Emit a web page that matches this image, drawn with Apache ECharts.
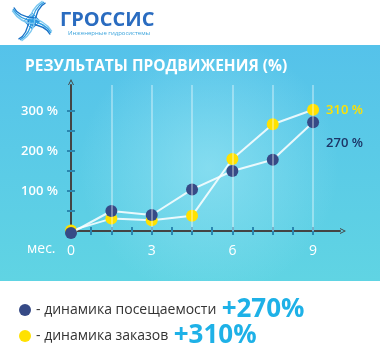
<!DOCTYPE html>
<html><head><meta charset="utf-8">
<script src="https://cdn.jsdelivr.net/npm/echarts@6/dist/echarts.min.js"></script>
<style>html,body{margin:0;padding:0;background:#fff}#c{width:380px;height:360px}</style>
</head><body><div id="c"></div>
<script>
// ---- data ----
var months = [0, 1.5, 3, 4.5, 6, 7.5, 9];
var visits = [-5, 50, 40, 104, 150, 178, 272];
var orders = [1, 31, 27, 38, 180, 267, 303];
var visitsName = '- динамика посещаемости';
var ordersName = '- динамика заказов';
var visitsTotal = '+270%';
var ordersTotal = '+310%';
var visitsEndLabel = '270 %';
var ordersEndLabel = '310 %';
var xTickValues = [0, 0.75, 1.5, 2.25, 3, 3.75, 4.5, 5.25, 6, 6.75, 7.5, 8.25, 9];
var xLabelValues = [0, 3, 6, 9];
var yTickValues = [50, 100, 150, 200, 250, 300];
var yLabelValues = [100, 200, 300];
var gridMonths = [1.5, 3, 4.5, 6, 7.5, 9];
var title = 'РЕЗУЛЬТАТЫ ПРОДВИЖЕНИЯ (%)';
var xUnit = 'мес.';

var FONT = '"Open Sans", sans-serif';
var chart = echarts.init(document.getElementById('c'));
var ARROW = 'path://M0,10 L5,0 L10,10 L8.4,10 L5,3.2 L1.6,10 Z';

function pairs(ys) { return months.map(function (m, i) { return [m, ys[i]]; }); }
function withEndLabel(ys, text, color, offset) {
  var d = pairs(ys);
  var last = d.length - 1;
  d[last] = { value: d[last], label: { show: true, position: 'right', distance: 7, offset: offset,
    formatter: text, color: color, fontFamily: FONT, fontSize: 13, fontWeight: 600 } };
  return d;
}

// logo
var logo = [];
var cx = 32, cy = 21;
function rot(p, k) {
  var x = p[0], y = p[1];
  for (var i = 0; i < k; i++) { var t = x; x = -y; y = t; }
  return [cx + x, cy + y];
}
var armColors = ['#7cc8f0', '#2f9fe3', '#1a72c6'];
for (var k = 0; k < 4; k++) {
  for (var s = -1; s <= 1; s++) {
    var p0 = [s * 3, 2], p1 = [s * 3 + 1, -8], p2 = [5 + s * 2, -15], p3 = [12 + s * 1.5, -19 + s * 0.8];
    var a = rot(p0, k), b = rot(p1, k), c = rot(p2, k), d = rot(p3, k);
    logo.push({ type: 'bezierCurve', shape: { x1: a[0], y1: a[1], cpx1: b[0], cpy1: b[1], cpx2: c[0], cpy2: c[1], x2: d[0], y2: d[1] },
      style: { stroke: armColors[s + 1], lineWidth: 1.4, fill: null }, z: 10 });
  }
}
var sq = [];
sq.push({ type: 'rect', shape: { x: -6, y: -6, width: 12, height: 12 }, style: { fill: '#2b8fdc' } });
for (var g = -4; g <= 4; g += 2.7) {
  sq.push({ type: 'line', shape: { x1: g, y1: -6, x2: g, y2: 6 }, style: { stroke: '#fff', lineWidth: 0.9 } });
  sq.push({ type: 'line', shape: { x1: -6, y1: g, x2: 6, y2: g }, style: { stroke: '#fff', lineWidth: 0.9 } });
}
logo.push({ type: 'group', x: cx, y: cy, rotation: Math.PI / 4, children: sq, z: 11 });

var tickStyle = { color: '#2a87b0', width: 2 };

var option = {
  animation: false,
  graphic: [
    { type: 'rect', shape: { x: 0, y: 45, width: 380, height: 236 }, z: -100,
      style: { fill: new echarts.graphic.LinearGradient(0, 0, 0, 1, [
        { offset: 0, color: '#55c2ea' }, { offset: 1, color: '#60d4e3' }]) } },
    { type: 'rect', shape: { x: 0, y: 45, width: 380, height: 236 }, z: -99,
      style: { fill: new echarts.graphic.RadialGradient(0.55, 0.52, 0.55, [
        { offset: 0, color: 'rgba(160,232,246,0.6)' }, { offset: 1, color: 'rgba(160,232,246,0)' }]) } },
    { type: 'text', left: 25, top: 59, z: 5,
      style: { text: title, fill: '#fff', font: 'bold 15.5px ' + FONT } },
    { type: 'text', left: 27, top: 242, z: 5,
      style: { text: xUnit, fill: '#fff', font: '14px ' + FONT } },
    { type: 'text', left: 60, top: 10, z: 5,
      style: { text: 'ГРОССИС', fill: '#2a6cc0', font: 'bold 20px ' + FONT } },
    { type: 'text', left: 68, top: 30, z: 5,
      style: { text: 'Инженерные гидросистемы', fill: '#3aa3dc', font: '6px ' + FONT } }
  ].concat(logo),
  legend: {
    left: 14, top: 292, orient: 'vertical', itemGap: 0, icon: 'circle', itemWidth: 12, itemHeight: 12,
    data: [visitsName, ordersName],
    formatter: function (n) {
      return '{a|' + n + '} {b|' + (n === visitsName ? visitsTotal : ordersTotal) + '}';
    },
    textStyle: { rich: {
      a: { color: '#333', fontSize: 14, fontFamily: FONT, lineHeight: 28 },
      b: { color: '#1eb1e7', fontSize: 26, fontWeight: 'bold', fontFamily: FONT, lineHeight: 28, padding: [0, 0, 0, 2] }
    } }
  },
  grid: { left: 71, right: 40, top: 85, bottom: 129, containLabel: false },
  xAxis: [
    { type: 'value', min: 0, max: 10,
      axisLine: { show: true, lineStyle: { color: '#444', width: 2 }, symbol: ['none', ARROW], symbolSize: [9, 6], symbolOffset: [0, 3] },
      axisTick: { show: true, length: 4, customValues: xTickValues, lineStyle: tickStyle },
      axisLabel: { customValues: xLabelValues, color: '#fff', fontSize: 14, fontFamily: FONT, margin: 13 },
      splitLine: { show: false } },
    { type: 'value', min: 0, max: 10, position: 'bottom',
      axisLine: { show: false },
      axisTick: { show: true, inside: true, length: 4, customValues: xTickValues, lineStyle: tickStyle },
      axisLabel: { show: false }, splitLine: { show: false } }
  ],
  yAxis: [
    { type: 'value', min: 0, max: 365,
      axisLine: { show: true, lineStyle: { color: '#444', width: 2 }, symbol: ['none', ARROW], symbolSize: [9, 6], symbolOffset: [0, 3] },
      axisTick: { show: true, length: 4, customValues: yTickValues, lineStyle: tickStyle },
      axisLabel: { customValues: yLabelValues, color: '#fff', fontSize: 13, fontWeight: 600, fontFamily: FONT, margin: 13,
        formatter: function (v) { return v + ' %'; } },
      splitLine: { show: false } },
    { type: 'value', min: 0, max: 365, position: 'left',
      axisLine: { show: false },
      axisTick: { show: true, inside: true, length: 4, customValues: yTickValues, lineStyle: tickStyle },
      axisLabel: { show: false }, splitLine: { show: false } }
  ],
  series: [
    { name: ordersName, type: 'line', clip: false, symbol: 'circle', symbolSize: 12,
      data: withEndLabel(orders, ordersEndLabel, '#ffe100', [0, 0]),
      itemStyle: { color: '#ffe100' },
      lineStyle: { color: 'rgba(255,255,255,0.85)', width: 2 },
      markLine: { silent: true, symbol: 'none', label: { show: false },
        lineStyle: { color: 'rgba(255,255,255,0.35)', width: 2, type: 'solid' },
        data: gridMonths.map(function (m) { return { xAxis: m }; }) },
      z: 3 },
    { name: visitsName, type: 'line', clip: false, symbol: 'circle', symbolSize: 12,
      data: withEndLabel(visits, visitsEndLabel, '#1d3566', [0, 21]),
      itemStyle: { color: '#364a86' },
      lineStyle: { color: 'rgba(255,255,255,0.85)', width: 2 },
      z: 4 }
  ]
};
chart.setOption(option);
</script></body></html>
